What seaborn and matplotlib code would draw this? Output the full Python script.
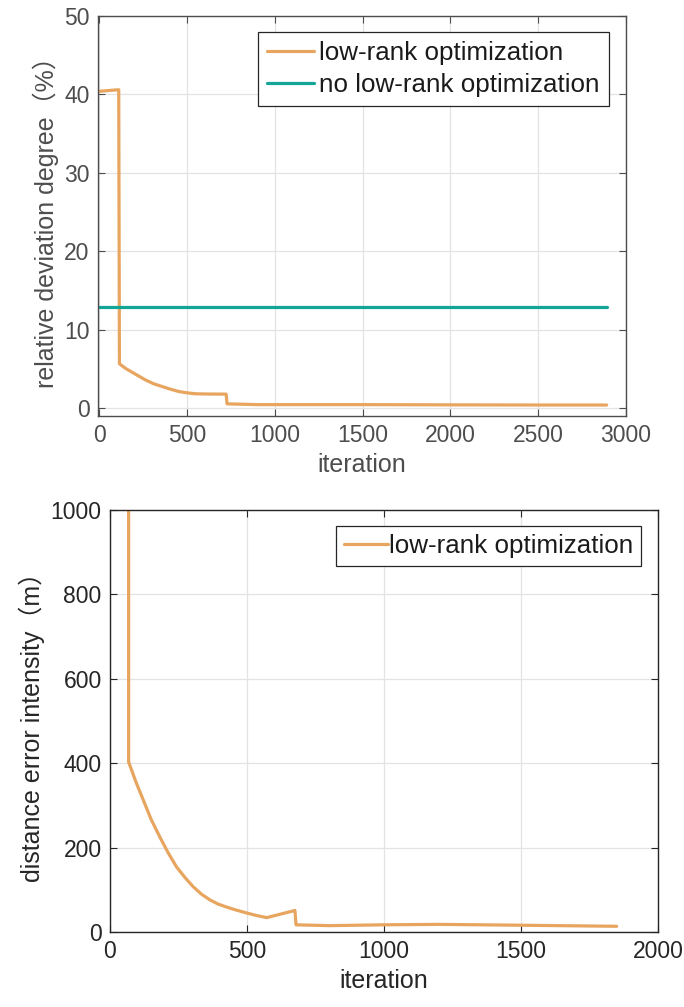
import matplotlib
matplotlib.use("Agg")
import matplotlib.pyplot as plt
import seaborn as sns
import pandas as pd

# ---- data ----
top_lr_x = [0, 110, 114, 150, 200, 262, 310, 357, 400, 452, 500, 548, 620, 722, 727, 900, 1500, 2000, 2500, 2890]
top_lr_y = [40.4, 40.6, 5.66, 5.05, 4.4, 3.6, 3.1, 2.76, 2.45, 2.12, 1.95, 1.83, 1.8, 1.79, 0.55, 0.45, 0.45, 0.42, 0.4, 0.4]
top_nolr_x = [0, 2890]
top_nolr_y = [12.9, 12.9]

bot_lr_x = [68, 68, 95, 122, 150, 182, 212, 243, 275, 304, 335, 365, 395, 426, 460, 499, 535, 572, 675, 679,
            800, 1000, 1200, 1500, 1849]
bot_lr_y = [3000, 403, 355, 312, 267, 225, 188, 154, 128, 107, 89, 76, 66, 59, 52, 45, 39, 34, 51, 17,
            15, 17, 18, 16, 13.5]

top_xticks = [0, 500, 1000, 1500, 2000, 2500, 3000]
top_yticks = [0, 10, 20, 30, 40, 50]
bot_xticks = [0, 500, 1000, 1500, 2000]
bot_yticks = [0, 200, 400, 600, 800, 1000]

ORANGE = "#E8A55F"
TEAL = "#13A697"

sns.set_style("ticks")
plt.rcParams['font.family'] = ['Liberation Sans', 'Noto Sans CJK SC', 'DejaVu Sans']

fig = plt.figure(figsize=(6.84, 10.07), dpi=100)
ax1 = fig.add_axes([0.1433, 0.5869, 0.9152 - 0.1433, 0.9841 - 0.5869])
ax2 = fig.add_axes([0.1608, 0.0745, 0.962 - 0.1608, 0.4935 - 0.0745])

df1 = pd.DataFrame({"x": top_lr_x, "y": top_lr_y})
df2 = pd.DataFrame({"x": top_nolr_x, "y": top_nolr_y})
df3 = pd.DataFrame({"x": bot_lr_x, "y": bot_lr_y})

sns.lineplot(data=df1, x="x", y="y", ax=ax1, color=ORANGE, lw=2.3,
             estimator=None, sort=False, label="low-rank optimization")
sns.lineplot(data=df2, x="x", y="y", ax=ax1, color=TEAL, lw=2.3,
             estimator=None, sort=False, label="no low-rank optimization")
sns.lineplot(data=df3, x="x", y="y", ax=ax2, color=ORANGE, lw=2.3,
             estimator=None, sort=False, label="low-rank optimization")


def style(ax, xt, yt, xl, yl, tickc):
    ax.set_xticks(xt)
    ax.set_yticks(yt)
    ax.set_xlim(xl)
    ax.set_ylim(yl)
    ax.grid(True, color="#e3e3e3", lw=0.9)
    ax.set_axisbelow(True)
    for s in ax.spines.values():
        s.set_visible(True)
        s.set_color(tickc)
        s.set_linewidth(1.0)
    ax.tick_params(direction="in", length=5, width=0.8, colors=tickc,
                   labelsize=16.5, top=True, right=True, labelcolor=tickc, pad=6)


style(ax1, top_xticks, top_yticks, (-8, 3000), (-1, 50), "#4d4d4d")
style(ax2, bot_xticks, bot_yticks, (0, 2000), (0, 1000), "#262626")

ax1.set_xlabel("iteration", fontsize=18, color="#4d4d4d", labelpad=4)
ax1.set_ylabel("relative deviation degree（%）", fontsize=18, color="#4d4d4d", labelpad=4)
ax2.set_xlabel("iteration", fontsize=18, color="#262626", labelpad=4)
ax2.set_ylabel("distance error intensity（m）", fontsize=18, color="#262626", labelpad=4)

leg1 = ax1.legend(loc="upper right", bbox_to_anchor=(0.9675, 0.96), fontsize=18.7,
                  frameon=True, fancybox=False, edgecolor="#262626", framealpha=1,
                  handlelength=1.8, handletextpad=0.2, borderpad=0.35, labelspacing=0.3,
                  borderaxespad=0)
leg1.get_frame().set_linewidth(0.9)
leg2 = ax2.legend(loc="upper right", bbox_to_anchor=(0.969, 0.962), fontsize=18.7,
                  frameon=True, fancybox=False, edgecolor="#262626", framealpha=1,
                  handlelength=1.7, handletextpad=0.05, borderpad=0.3,
                  borderaxespad=0)
leg2.get_frame().set_linewidth(0.9)
for t in leg1.get_texts() + leg2.get_texts():
    t.set_color("#1a1a1a")

fig.savefig("out.png", dpi=100)
